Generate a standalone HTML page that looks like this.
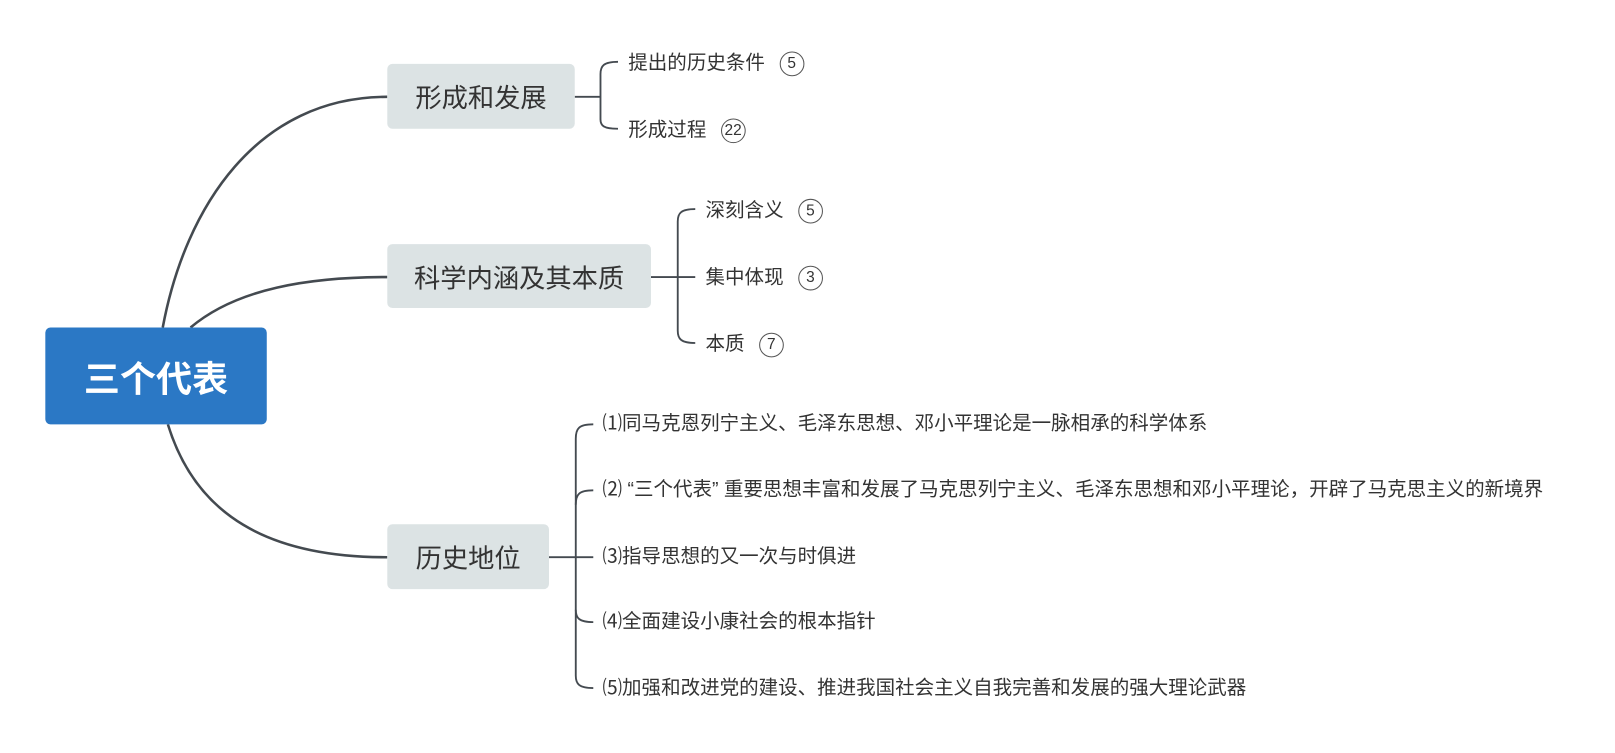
<!DOCTYPE html>
<html><head><meta charset="utf-8"><style>
body{margin:0;width:1615px;height:753px;background:#fff;position:relative;overflow:hidden;font-family:"Liberation Sans","Noto Sans CJK SC",sans-serif;}
#w{position:absolute;left:0;top:0;width:1568px;height:731px;transform:scale(1.03);transform-origin:0 0;}
.n{position:absolute;display:flex;align-items:center;justify-content:center;border-radius:5px;background:#dce3e4;color:#333;font-size:25.5px;}
.t{position:absolute;font-size:18.95px;color:#333;white-space:nowrap;line-height:20px;}
.b{display:inline-block;width:22px;height:22px;border:1px solid #555;border-radius:50%;text-align:center;line-height:22px;font-size:15px;margin-left:14px;vertical-align:middle;}
</style></head><body><div id="w">
<svg width="1568" height="731" style="position:absolute;left:0;top:0" fill="none" stroke="#444a50" stroke-width="2.5">
<path d="M158 318 C180 200 250 94 376 94"/>
<path d="M185 318 C230 280 300 269 376 269"/>
<path d="M163 412 C190 500 260 541 376 541"/>
<g stroke-width="1.8">
<path d="M558 94 H583"/>
<path d="M600 60 C586 60 583 64 583 72 V116 C583 122 586 125 600 125"/>
<path d="M632 269 H658"/>
<path d="M675 203 C661 203 658 207 658 215 V321 C658 329 661 333 675 333"/><path d="M658 269 H675"/>
<path d="M533 541 H559"/>
<path d="M576 412 C562 412 559 416 559 426 V656 C559 664 562 668 576 668"/>
<path d="M576 476 C562 476 559 480 559 490"/><path d="M576 604 C562 604 559 600 559 592"/><path d="M559 541 H576"/>
</g></svg>
<div class="n" style="left:44px;top:318px;width:215px;height:94px;background:#2b78c5;color:#fff;font-size:35px;font-weight:bold;">三个代表</div>
<div class="n" style="left:376px;top:62px;width:182px;height:63px;">形成和发展</div>
<div class="n" style="left:376px;top:237px;width:256px;height:62px;">科学内涵及其本质</div>
<div class="n" style="left:376px;top:509px;width:157px;height:63px;">历史地位</div>
<div class="t" style="left:610px;top:50px">提出的历史条件<span class="b">5</span></div>
<div class="t" style="left:610px;top:115px">形成过程<span class="b">22</span></div>
<div class="t" style="left:685px;top:193px">深刻含义<span class="b">5</span></div>
<div class="t" style="left:685px;top:258px">集中体现<span class="b">3</span></div>
<div class="t" style="left:685px;top:323px">本质<span class="b">7</span></div>
<div class="t" style="left:585px;top:402px">⑴同马克恩列宁主义、毛泽东思想、邓小平理论是一脉相承的科学体系</div>
<div class="t" style="left:585px;top:466px">⑵ “三个代表” 重要思想丰富和发展了马克思列宁主义、毛泽东思想和邓小平理论，开辟了马克思主义的新境界</div>
<div class="t" style="left:585px;top:531px">⑶指导思想的又一次与时俱进</div>
<div class="t" style="left:585px;top:594px">⑷全面建设小康社会的根本指针</div>
<div class="t" style="left:585px;top:659px">⑸加强和改进党的建设、推进我国社会主义自我完善和发展的强大理论武器</div>
</div></body></html>
